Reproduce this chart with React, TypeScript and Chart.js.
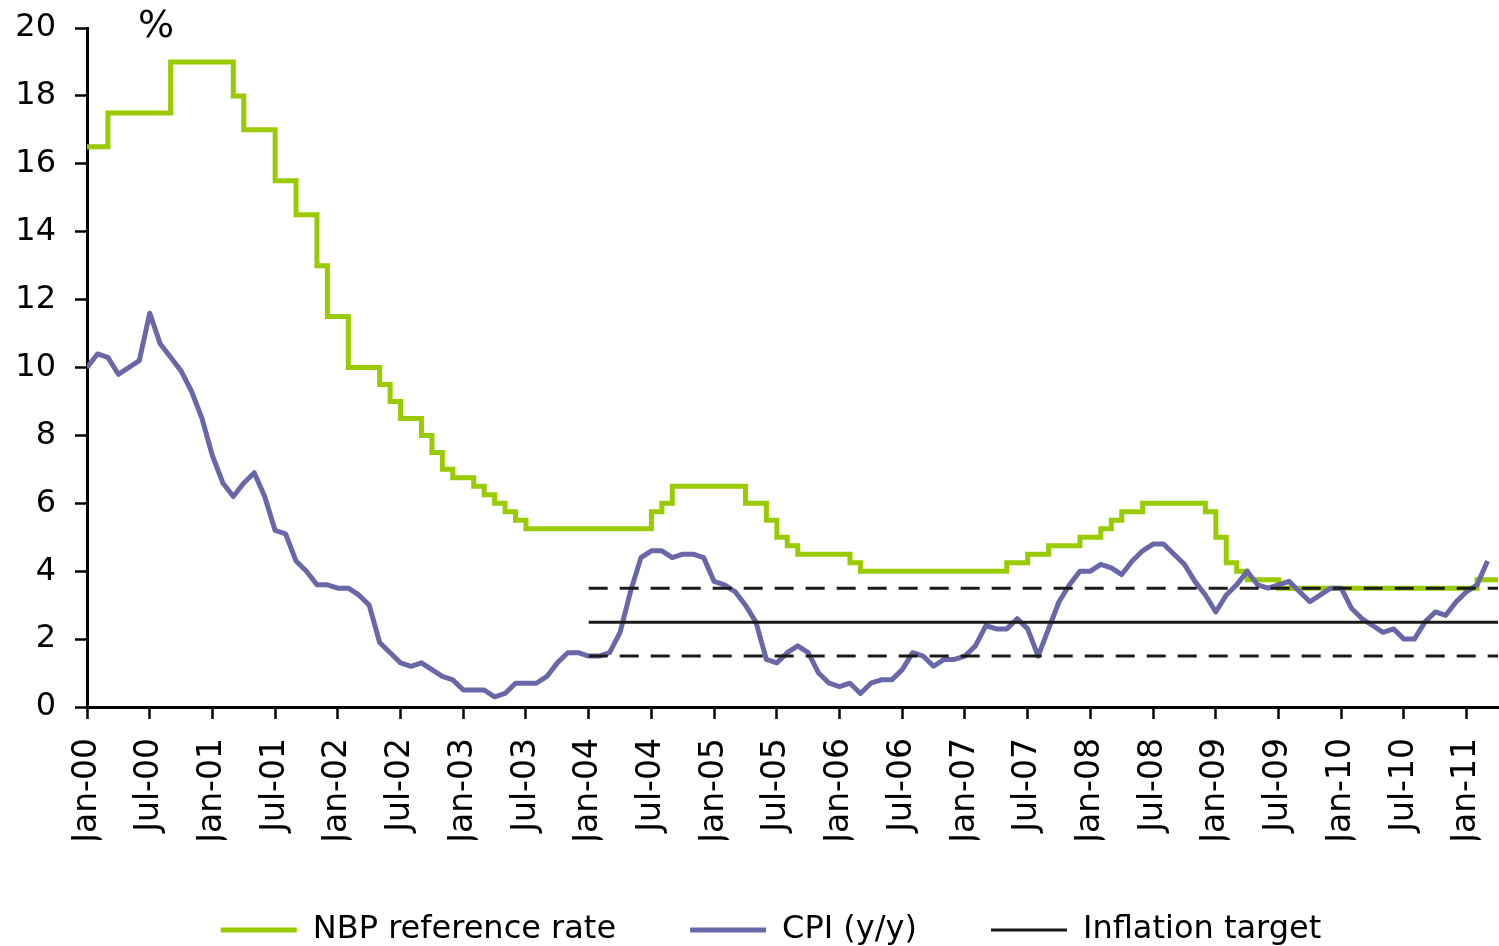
import React, { useEffect, useRef } from 'react';
import { Chart, registerables } from 'chart.js';

Chart.register(...registerables);

// ---- categories ----
const MONTH_NAMES = ['Jan', 'Feb', 'Mar', 'Apr', 'May', 'Jun', 'Jul', 'Aug', 'Sep', 'Oct', 'Nov', 'Dec'];
const START_YEAR = 2000;
const MONTH_COUNT = 136; // Jan-00 .. Apr-11
const monthLabels: string[] = Array.from({ length: MONTH_COUNT }, (_, i) =>
  `${MONTH_NAMES[i % 12]}-${String((START_YEAR + Math.floor(i / 12)) % 100).padStart(2, '0')}`
);
const X_TICK_EVERY = 6;

// ---- series: NBP reference rate (%), monthly, Jan-00 .. Apr-11 ----
const nbpRate: number[] = [
  16.5, 16.5, 17.5, 17.5, 17.5, 17.5, 17.5, 17.5, 19, 19, 19, 19,
  19, 19, 18, 17, 17, 17, 15.5, 15.5, 14.5, 14.5, 13, 11.5,
  11.5, 10, 10, 10, 9.5, 9, 8.5, 8.5, 8, 7.5, 7, 6.75,
  6.75, 6.5, 6.25, 6, 5.75, 5.5, 5.25, 5.25, 5.25, 5.25, 5.25, 5.25,
  5.25, 5.25, 5.25, 5.25, 5.25, 5.25, 5.75, 6, 6.5, 6.5, 6.5, 6.5,
  6.5, 6.5, 6.5, 6, 6, 5.5, 5, 4.75, 4.5, 4.5, 4.5, 4.5,
  4.5, 4.25, 4, 4, 4, 4, 4, 4, 4, 4, 4, 4,
  4, 4, 4, 4, 4.25, 4.25, 4.5, 4.5, 4.75, 4.75, 4.75, 5,
  5, 5.25, 5.5, 5.75, 5.75, 6, 6, 6, 6, 6, 6, 5.75,
  5, 4.25, 4, 3.75, 3.75, 3.75, 3.5, 3.5, 3.5, 3.5, 3.5, 3.5,
  3.5, 3.5, 3.5, 3.5, 3.5, 3.5, 3.5, 3.5, 3.5, 3.5, 3.5, 3.5,
  3.5, 3.75, 3.75, 3.75,
];

// ---- series: CPI y/y (%), monthly, Jan-00 .. Mar-11 ----
const cpi: number[] = [
  10.0, 10.4, 10.3, 9.8, 10.0, 10.2, 11.6, 10.7, 10.3, 9.9, 9.3, 8.5,
  7.4, 6.6, 6.2, 6.6, 6.9, 6.2, 5.2, 5.1, 4.3, 4.0, 3.6, 3.6,
  3.5, 3.5, 3.3, 3.0, 1.9, 1.6, 1.3, 1.2, 1.3, 1.1, 0.9, 0.8,
  0.5, 0.5, 0.5, 0.3, 0.4, 0.7, 0.7, 0.7, 0.9, 1.3, 1.6, 1.6,
  1.5, 1.5, 1.6, 2.2, 3.4, 4.4, 4.6, 4.6, 4.4, 4.5, 4.5, 4.4,
  3.7, 3.6, 3.4, 3.0, 2.5, 1.4, 1.3, 1.6, 1.8, 1.6, 1.0, 0.7,
  0.6, 0.7, 0.4, 0.7, 0.8, 0.8, 1.1, 1.6, 1.5, 1.2, 1.4, 1.4,
  1.5, 1.8, 2.4, 2.3, 2.3, 2.6, 2.3, 1.5, 2.3, 3.1, 3.6, 4.0,
  4.0, 4.2, 4.1, 3.9, 4.3, 4.6, 4.8, 4.8, 4.5, 4.2, 3.7, 3.3,
  2.8, 3.3, 3.6, 4.0, 3.6, 3.5, 3.6, 3.7, 3.4, 3.1, 3.3, 3.5,
  3.5, 2.9, 2.6, 2.4, 2.2, 2.3, 2.0, 2.0, 2.5, 2.8, 2.7, 3.1,
  3.4, 3.6, 4.3,
];

// ---- inflation target ----
const TARGET = 2.5;
const TARGET_LOWER = 1.5;
const TARGET_UPPER = 3.5;
const TARGET_FROM = 'Jan-04';
const TARGET_TO = 'Apr-11';

// ---- y axis ----
const Y_MIN = 0;
const Y_MAX = 20;
const Y_STEP = 2;
const UNIT_LABEL = '%';

const SERIES_NAMES = ['NBP reference rate', 'CPI (y/y)', 'Inflation target'];

const GREEN = '#99cc00';
const PURPLE = '#6868a8';
const BLACK = '#1a1a1a';
const FONT = 'DejaVu Sans';

const targetFromIdx = monthLabels.indexOf(TARGET_FROM);
const targetToIdx = monthLabels.indexOf(TARGET_TO);
const tickIdx = monthLabels.map((_, i) => i).filter((i) => i % X_TICK_EVERY === 0);

const unitLabelPlugin = {
  id: 'unitLabel',
  afterLayout(chart: any) {
    if (chart.legend) {
      chart.legend.left += 44;
    }
  },
  afterDraw(chart: any) {
    const { ctx, chartArea } = chart;
    ctx.save();
    ctx.font = `38px "${FONT}"`;
    ctx.fillStyle = '#000';
    ctx.textAlign = 'center';
    ctx.textBaseline = 'middle';
    ctx.fillText(UNIT_LABEL, chartArea.left + 69, chartArea.top - 1);
    ctx.restore();
  },
};

export default function App() {
  const ref = useRef<HTMLCanvasElement>(null);

  useEffect(() => {
    if (!ref.current) return;
    const line = (from: number, to: number, v: number) => [
      { x: from, y: v },
      { x: to, y: v },
    ];
    const chart = new Chart(ref.current, {
      type: 'line',
      data: {
        datasets: [
          {
            label: SERIES_NAMES[0],
            data: nbpRate.map((v, i) => ({ x: i, y: v })),
            borderColor: GREEN,
            backgroundColor: GREEN,
            borderWidth: 5,
            pointRadius: 0,
            stepped: true,
            order: 3,
          },
          {
            label: SERIES_NAMES[1],
            data: cpi.map((v, i) => ({ x: i, y: v })),
            borderColor: PURPLE,
            backgroundColor: PURPLE,
            borderWidth: 5,
            pointRadius: 0,
            tension: 0,
            borderJoinStyle: 'round',
            order: 2,
          },
          {
            label: SERIES_NAMES[2],
            data: line(targetFromIdx, targetToIdx, TARGET),
            borderColor: BLACK,
            backgroundColor: BLACK,
            borderWidth: 3,
            pointRadius: 0,
            order: 1,
          },
          {
            label: 'lower',
            data: line(targetFromIdx, targetToIdx, TARGET_LOWER),
            borderColor: BLACK,
            borderWidth: 3,
            borderDash: [19, 12],
            pointRadius: 0,
            order: 1,
          },
          {
            label: 'upper',
            data: line(targetFromIdx, targetToIdx, TARGET_UPPER),
            borderColor: BLACK,
            borderWidth: 3,
            borderDash: [19, 12],
            pointRadius: 0,
            order: 1,
          },
        ],
      },
      options: {
        responsive: false,
        animation: false,
        devicePixelRatio: 1,
        layout: { padding: { top: 28, right: 1, bottom: 0, left: 0 } },
        scales: {
          x: {
            type: 'linear',
            min: 0,
            max: MONTH_COUNT - 1,
            afterBuildTicks: (s: any) => {
              s.ticks = tickIdx.map((v) => ({ value: v }));
            },
            afterFit: (s: any) => {
              s.height = 133;
              s.paddingLeft = 0;
              s.paddingRight = 0;
            },
            grid: {
              drawOnChartArea: false,
              drawTicks: true,
              tickLength: 12,
              tickWidth: 2.5,
              tickColor: '#000',
            },
            border: { display: true, color: '#000', width: 3 },
            ticks: {
              autoSkip: false,
              minRotation: 90,
              maxRotation: 90,
              padding: 19,
              color: '#000',
              font: { family: FONT, size: 33 },
              callback: (v: any) => monthLabels[v as number] ?? '',
            },
          },
          y: {
            min: Y_MIN,
            max: Y_MAX,
            afterFit: (s: any) => {
              s.width = 87;
              s.paddingTop = 0;
              s.paddingBottom = 0;
            },
            grid: {
              drawOnChartArea: false,
              drawTicks: true,
              tickLength: 12,
              tickWidth: 2.5,
              tickColor: '#000',
            },
            border: { display: true, color: '#000', width: 3 },
            ticks: {
              stepSize: Y_STEP,
              padding: 19,
              color: '#000',
              font: { family: FONT, size: 32 },
            },
          },
        },
        plugins: {
          tooltip: { enabled: false },
          legend: {
            display: true,
            position: 'bottom',
            align: 'center',
            labels: {
              usePointStyle: true,
              pointStyle: 'line',
              pointStyleWidth: 76,
              padding: 74,
              color: '#000',
              font: { family: FONT, size: 32 },
              filter: (item: any) => item.datasetIndex <= 2,
              sort: (a: any, b: any) => a.datasetIndex - b.datasetIndex,
            },
          },
        },
      },
      plugins: [unitLabelPlugin],
    } as any);
    return () => chart.destroy();
  }, []);

  return (
    <div
      style={{
        position: 'fixed',
        left: 0,
        top: 0,
        width: 1499,
        height: 946,
        overflow: 'hidden',
        background: '#fff',
      }}
    >
      <canvas ref={ref} width={1499} height={956} style={{ display: 'block', width: 1499, height: 956 }} />
    </div>
  );
}
